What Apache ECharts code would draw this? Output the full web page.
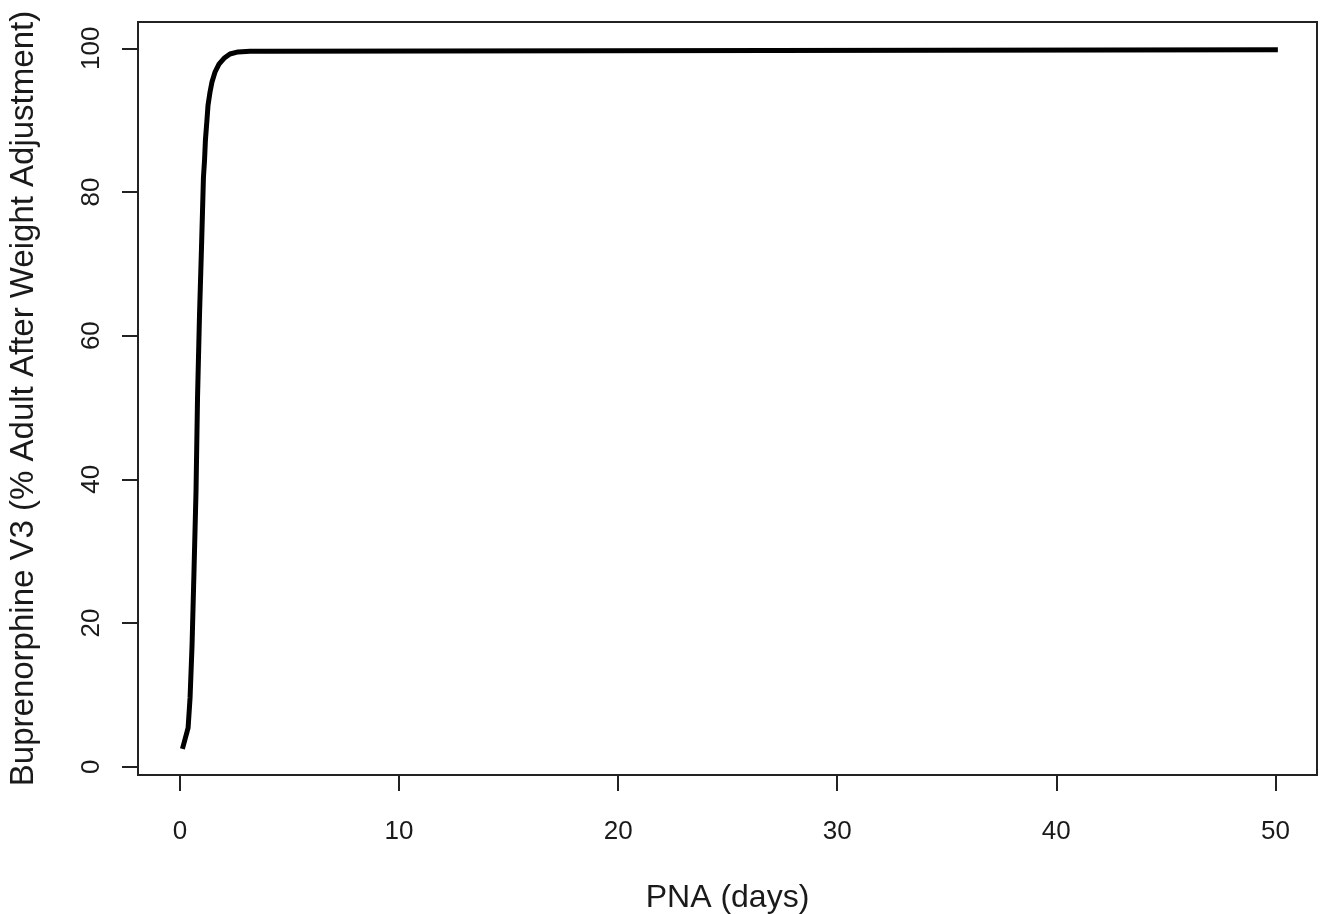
<!DOCTYPE html>
<html>
<head>
<meta charset="utf-8">
<script src="https://cdn.jsdelivr.net/npm/echarts@6/dist/echarts.min.js"></script>
<style>
  html, body { margin: 0; padding: 0; background: #fff; }
  #chart { width: 1326px; height: 914px; }
</style>
</head>
<body>
<div id="chart"></div>
<script>
// PNA (days) and buprenorphine V3 (% adult after weight adjustment)
const pna = [0.14, 0.37, 0.46, 0.55, 0.64, 0.73, 0.80, 0.89, 0.98, 1.07, 1.12, 1.16, 1.23, 1.28, 1.37, 1.46, 1.60, 1.78, 2.01, 2.28, 2.65, 3.20, 3.88, 3.90, 50];
const v3 = [2.8, 5.4, 9.6, 16.9, 27.3, 38.2, 51.3, 62.8, 72.1, 82.0, 84.4, 87.2, 90.0, 92.1, 93.9, 95.3, 96.7, 97.8, 98.6, 99.2, 99.5, 99.6, 99.6, 99.8, 99.8];
const xTicks = [0, 10, 20, 30, 40, 50];
const yTicks = [0, 20, 40, 60, 80, 100];

const initChart = function () {
  const myChart = echarts.init(document.getElementById('chart'));
  const txt = '#1a1a1a';
  const font = 'Liberation Sans, Arial, sans-serif';

  let option = {
    animation: false,
    grid: {
      left: 138, top: 22, right: 9, bottom: 139,
      outerBoundsMode: 'none',
      show: true, borderColor: '#222', borderWidth: 2
    },
    xAxis: {
      type: 'value',
      min: -1.917, max: 51.9,
      splitLine: { show: false },
      axisLine: { show: false, onZero: false },
      axisTick: { show: true, length: 16, customValues: xTicks, lineStyle: { color: '#222', width: 2 } },
      axisLabel: { customValues: xTicks, color: txt, fontSize: 26, fontFamily: font, margin: 44 },
      name: 'PNA (days)',
      nameLocation: 'middle',
      nameGap: 107,
      nameTextStyle: { color: txt, fontSize: 32, fontFamily: font }
    },
    yAxis: {
      type: 'value',
      min: -1.16, max: 103.66,
      splitLine: { show: false },
      axisLine: { show: false, onZero: false },
      axisTick: { show: true, length: 16, customValues: yTicks, lineStyle: { color: '#222', width: 2 } },
      axisLabel: { customValues: yTicks, rotate: 90, color: txt, fontSize: 26, fontFamily: font, margin: 33 },
      name: 'Buprenorphine V3 (% Adult After Weight Adjustment)',
      nameLocation: 'middle',
      nameGap: 98,
      nameTextStyle: { color: txt, fontSize: 33, fontFamily: font }
    },
    series: [
      {
        type: 'line',
        data: pna.map((x, i) => [x, v3[i]]),
        showSymbol: false,
        lineStyle: { color: '#000', width: 5, join: 'round', cap: 'square' }
      }
    ]
  };

  myChart.setOption(option);
};

window.addEventListener('load', function () {
  initChart();
});
</script>
</body>
</html>
